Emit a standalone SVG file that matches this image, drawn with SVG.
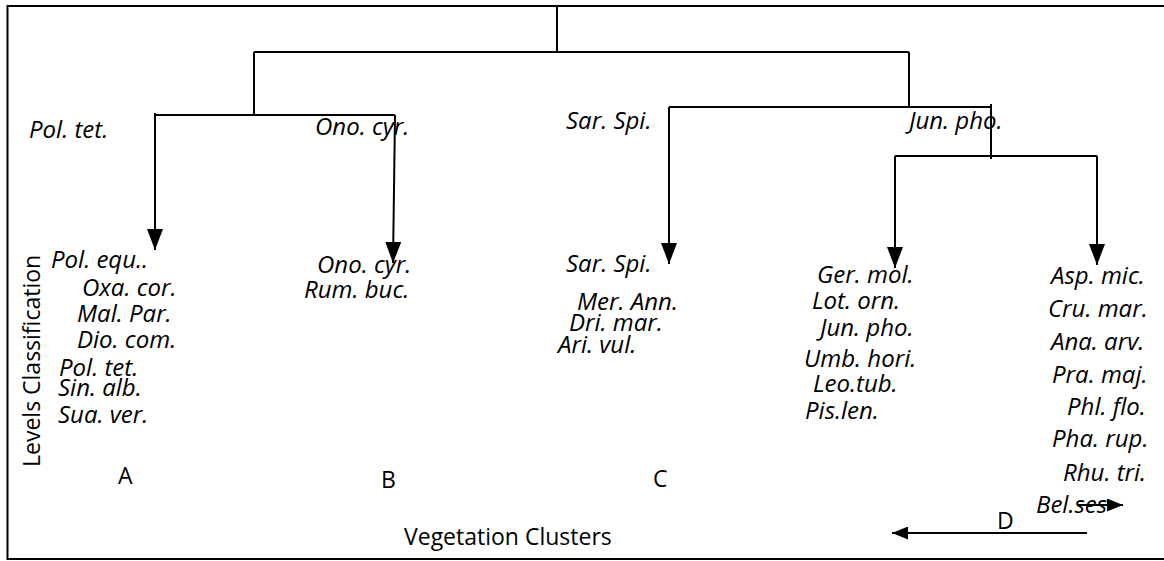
<svg xmlns="http://www.w3.org/2000/svg" width="1164" height="561" viewBox="0 0 1164 561">
<style>
  .ln { fill: none; stroke: #000; stroke-width: 2; }
  .sp { font-family: "Open Sans", "Noto Sans", sans-serif; font-style: italic; font-size: 24px; fill: #000; }
  .lb { font-family: "Open Sans", "Noto Sans", sans-serif; font-size: 23px; fill: #000; }
</style>
<defs>
  <marker id="ah" markerUnits="userSpaceOnUse" markerWidth="21" markerHeight="16" refX="21" refY="8" orient="auto">
    <path d="M0,0 L21,8 L0,16 z" fill="#000"/>
  </marker>
  <marker id="ahs" markerUnits="userSpaceOnUse" markerWidth="16" markerHeight="13" refX="16" refY="6.5" orient="auto">
    <path d="M0,0 L16,6.5 L0,13 z" fill="#000"/>
  </marker>
</defs>
<rect width="1164" height="561" fill="#fff"/>
<g id="frame">
  <path class="ln" d="M1170,6 H7.5 V559 H1170"/>
</g>
<g id="connectors">
  <path class="ln" d="M557,6 V52"/>
  <path class="ln" d="M254,52 H909"/>
  <path class="ln" d="M254,52 V115"/>
  <path class="ln" d="M155,115 H395"/>
  <path class="ln" d="M155,113 V250" marker-end="url(#ah)"/>
  <path class="ln" d="M395,115 L393,263" marker-end="url(#ah)"/>
  <path class="ln" d="M909,52 V107"/>
  <path class="ln" d="M669,107 H991"/>
  <path class="ln" d="M669,107 V264" marker-end="url(#ah)"/>
  <path class="ln" d="M991,104 V159"/>
  <path class="ln" d="M895,156 H1097"/>
  <path class="ln" d="M895,156 V268" marker-end="url(#ah)"/>
  <path class="ln" d="M1097,156 V265" marker-end="url(#ah)"/>
  <path class="ln" d="M1087,533 H892" marker-end="url(#ahs)"/>
  <path class="ln" d="M1077,505 H1123" marker-end="url(#ahs)"/>
</g>
<g id="node-labels">
  <text class="sp" x="29" y="138">Pol. tet.</text>
  <text class="sp" x="315" y="135">Ono. cyr.</text>
  <text class="sp" x="566" y="129">Sar. Spi.</text>
  <text class="sp" x="909" y="129">Jun. pho.</text>
</g>
<g id="axis">
  <text class="lb" transform="translate(40,467) rotate(-90)">Levels Classification</text>
  <text class="lb" x="404" y="545">Vegetation Clusters</text>
</g>
<g id="cluster-A">
  <text class="sp" x="51" y="268">Pol. equ..</text>
  <text class="sp" x="82" y="296">Oxa. cor.</text>
  <text class="sp" x="77" y="322">Mal. Par.</text>
  <text class="sp" x="77" y="348">Dio. com.</text>
  <text class="sp" x="59" y="376">Pol. tet.</text>
  <text class="sp" x="58" y="396">Sin. alb.</text>
  <text class="sp" x="58" y="423">Sua. ver.</text>
  <text class="lb" x="118" y="484">A</text>
</g>
<g id="cluster-B">
  <text class="sp" x="317" y="273">Ono. cyr.</text>
  <text class="sp" x="304" y="298">Rum. buc.</text>
  <text class="lb" x="381" y="488">B</text>
</g>
<g id="cluster-C">
  <text class="sp" x="566" y="272">Sar. Spi.</text>
  <text class="sp" x="577" y="310">Mer. Ann.</text>
  <text class="sp" x="569" y="331">Dri. mar.</text>
  <text class="sp" x="558" y="353">Ari. vul.</text>
  <text class="lb" x="653" y="487">C</text>
</g>
<g id="cluster-D1">
  <text class="sp" x="817" y="283">Ger. mol.</text>
  <text class="sp" x="812" y="309">Lot. orn.</text>
  <text class="sp" x="820" y="336">Jun. pho.</text>
  <text class="sp" x="804" y="367">Umb. hori.</text>
  <text class="sp" x="813" y="392">Leo.tub.</text>
  <text class="sp" x="805" y="419">Pis.len.</text>
</g>
<g id="cluster-D2">
  <text class="sp" x="1051" y="284">Asp. mic.</text>
  <text class="sp" x="1048" y="317">Cru. mar.</text>
  <text class="sp" x="1051" y="350">Ana. arv.</text>
  <text class="sp" x="1052" y="383">Pra. maj.</text>
  <text class="sp" x="1067" y="415">Phl. flo.</text>
  <text class="sp" x="1052" y="447">Pha. rup.</text>
  <text class="sp" x="1063" y="481">Rhu. tri.</text>
  <text class="sp" x="1036" y="513">Bel.ses</text>
  <text class="lb" x="997" y="529">D</text>
</g>
</svg>
